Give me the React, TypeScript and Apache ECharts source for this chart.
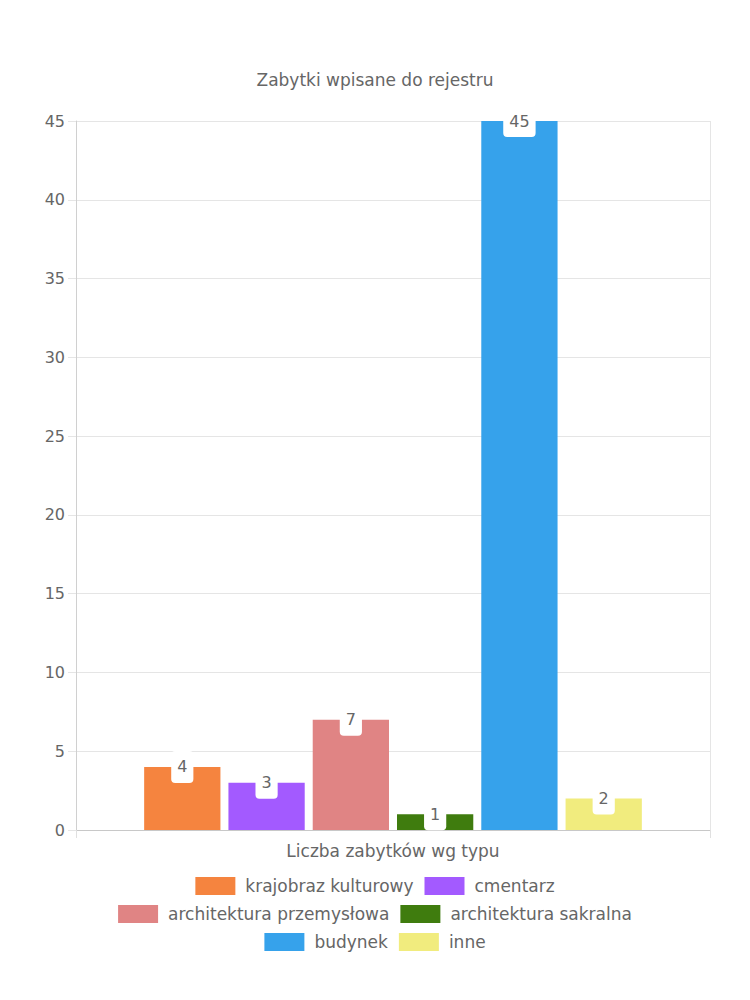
import React, { useEffect, useRef } from "react";
import * as echarts from "echarts";

const title = "Zabytki wpisane do rejestru";
const categories = ["Liczba zabytków wg typu"];
const seriesNames = [
  "krajobraz kulturowy",
  "cmentarz",
  "architektura przemysłowa",
  "architektura sakralna",
  "budynek",
  "inne",
];
const seriesValues = [4, 3, 7, 1, 45, 2];
const seriesColors = ["#F5843F", "#A35AFF", "#E08484", "#3F7C0E", "#36A2EB", "#F1EC7E"];
const legendRows = [
  ["krajobraz kulturowy", "cmentarz"],
  ["architektura przemysłowa", "architektura sakralna"],
  ["budynek", "inne"],
];

const FONT = "'DejaVu Sans', sans-serif";
const TEXT = "#666666";

export default function App() {
  const ref = useRef<HTMLDivElement>(null);
  useEffect(() => {
    document.body.style.margin = "0";
    const chart = echarts.init(ref.current!, null, { renderer: "svg" });
    chart.setOption({
      animation: false,
      textStyle: { fontFamily: FONT },
      title: {
        text: title,
        left: "center",
        top: 66,
        textStyle: { fontFamily: FONT, fontSize: 17, fontWeight: "normal", color: TEXT },
      },
      legend: legendRows.map((row, i) => ({
        data: row,
        left: "center",
        top: 872 + i * 28,
        itemWidth: 40,
        itemHeight: 18,
        itemGap: 11,
        icon: "rect",
        textStyle: { fontFamily: FONT, fontSize: 17, color: TEXT, padding: [0, 0, 0, 5] },
      })),
      grid: { left: 76, right: 40, top: 121, bottom: 170 },
      xAxis: {
        type: "category",
        data: categories,
        axisLine: { show: true, lineStyle: { color: "#c8c8c8" } },
        axisTick: { show: true, length: 8, lineStyle: { color: "#e0e0e0" } },
        splitLine: { show: true, lineStyle: { color: "#e5e5e5" } },
        axisLabel: { margin: 12, fontSize: 17, color: TEXT, fontFamily: FONT },
      },
      yAxis: {
        type: "value",
        min: 0,
        max: 45,
        interval: 5,
        axisLine: { show: true, lineStyle: { color: "#d0d0d0" } },
        axisTick: { show: true, length: 8, lineStyle: { color: "#e5e5e5" } },
        splitLine: { show: true, lineStyle: { color: "#e5e5e5" } },
        axisLabel: { margin: 11, fontSize: 16, color: TEXT, fontFamily: FONT },
      },
      series: seriesNames.map((name, i) => ({
        name,
        type: "bar",
        data: [seriesValues[i]],
        barCategoryGap: "21.5%",
        barGap: "10.5%",
        itemStyle: { color: seriesColors[i] },
        label: {
          show: true,
          position: "top",
          distance: -16,
          backgroundColor: "#ffffff",
          borderRadius: 4,
          padding: [8, 6, 8, 6],
          lineHeight: 16,
          fontSize: 16,
          color: TEXT,
          fontFamily: FONT,
        },
      })),
    });
    return () => chart.dispose();
  }, []);
  return <div ref={ref} style={{ width: 750, height: 1000 }} />;
}
